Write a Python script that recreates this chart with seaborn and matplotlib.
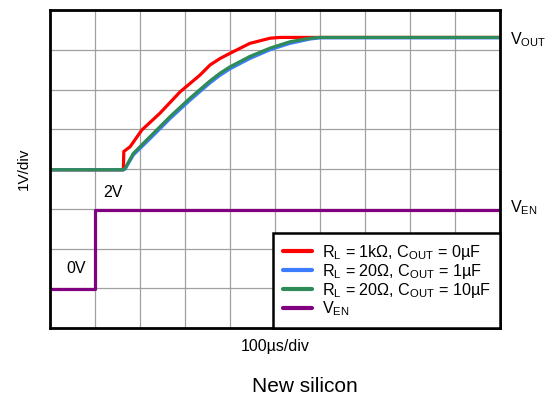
import numpy as np
import pandas as pd
import matplotlib
matplotlib.use("Agg")
import matplotlib.pyplot as plt
import seaborn as sns
from matplotlib.lines import Line2D

# ---- data (time in divisions of 100 µs, voltage in divisions of 1 V) ----
red_t = [0.0, 1.63, 1.64, 1.78, 2.04, 2.44, 2.89, 3.33, 3.56, 3.78, 4.0, 4.44, 4.89, 5.11, 10.0]
red_v = [3.98, 3.98, 4.44, 4.56, 4.98, 5.40, 5.94, 6.36, 6.62, 6.78, 6.91, 7.16, 7.29, 7.31, 7.31]

blue_t = [0.0, 1.63, 1.67, 1.85, 2.22, 2.67, 3.11, 3.56, 3.78, 4.0, 4.44, 4.89, 5.33, 5.78, 6.0, 10.0]
blue_v = [3.98, 3.98, 4.00, 4.35, 4.76, 5.27, 5.73, 6.17, 6.36, 6.52, 6.78, 7.00, 7.16, 7.27, 7.30, 7.30]

green_t = [0.0, 1.63, 1.67, 1.85, 2.22, 2.67, 3.11, 3.56, 3.78, 4.0, 4.44, 4.89, 5.33, 5.78, 6.0, 10.0]
green_v = [3.98, 3.98, 4.02, 4.39, 4.81, 5.32, 5.78, 6.22, 6.41, 6.57, 6.83, 7.04, 7.20, 7.29, 7.31, 7.31]

ven_t = [0.0, 1.0, 1.0, 10.0]
ven_v = [0.98, 0.98, 2.98, 2.98]

series_labels = [
    r"$\mathregular{R_L}$ = 1kΩ, $\mathregular{C_{OUT}}$ = 0µF",
    r"$\mathregular{R_L}$ = 20Ω, $\mathregular{C_{OUT}}$ = 1µF",
    r"$\mathregular{R_L}$ = 20Ω, $\mathregular{C_{OUT}}$ = 10µF",
    r"$\mathregular{V_{EN}}$",
]
colors = ["#FF0000", "#3C7DFF", "#2E8B57", "#800080"]

frames = []
for lab, t, v in zip(series_labels, [red_t, blue_t, green_t, ven_t], [red_v, blue_v, green_v, ven_v]):
    frames.append(pd.DataFrame({"t": t, "v": v, "series": lab}))
df = pd.concat(frames, ignore_index=True)

sns.set_style("white")
plt.rcParams["font.family"] = ["Liberation Sans", "DejaVu Sans"]
plt.rcParams["mathtext.fontset"] = "custom"
plt.rcParams["mathtext.rm"] = "Liberation Sans"
plt.rcParams["mathtext.it"] = "Liberation Sans"
plt.rcParams["text.color"] = "black"

fig = plt.figure(figsize=(5.49, 4.01), dpi=100)
ax = fig.add_axes([50 / 549, 1 - 328 / 401, 450 / 549, 318 / 401])

sns.lineplot(data=df, x="t", y="v", hue="series", hue_order=series_labels,
             palette=colors, sort=False, estimator=None, units="series",
             linewidth=2.3, ax=ax, legend=False)

ax.set_xlim(0, 10)
ax.set_ylim(0, 8)
ax.set_xticks(np.arange(0, 11, 1))
ax.set_yticks(np.arange(0, 9, 1))
ax.tick_params(length=0, labelbottom=False, labelleft=False)
ax.grid(True, color="#a0a0a0", linewidth=0.9)
ax.set_axisbelow(True)
ax.set_xlabel("")
ax.set_ylabel("")
for s in ax.spines.values():
    s.set_color("black")
    s.set_linewidth(2)

handles = [Line2D([0], [0], color=c, lw=3) for c in colors]
leg = ax.legend(handles, series_labels, loc="lower right", bbox_to_anchor=(1.0, 0.0),
                borderaxespad=0, fontsize=11.6, frameon=True, fancybox=False,
                handlelength=1.8, handletextpad=0.6, labelspacing=0.0,
                borderpad=0.6)
leg.get_frame().set_edgecolor("black")
leg.get_frame().set_linewidth(1.8)
leg.get_frame().set_alpha(1)
for t in leg.get_texts():
    t.set_color("black")

fig.text(510 / 549, 1 - 40 / 401, r"$\mathregular{V_{OUT}}$", fontsize=11.5, va="center", ha="left")
fig.text(510 / 549, 1 - 208 / 401, r"$\mathregular{V_{EN}}$", fontsize=11.5, va="center", ha="left")
fig.text(24 / 549, 1 - 169 / 401, "1V/div", fontsize=11, rotation=90, va="center", ha="center")
fig.text(275 / 549, 1 - 347 / 401, "100µs/div", fontsize=11.5, va="center", ha="center")
fig.text(305 / 549, 1 - 386 / 401, "New silicon", fontsize=15, va="center", ha="center")
ax.text(1.4, 3.4, "2V", fontsize=11.5, va="center", ha="center")
ax.text(0.58, 1.5, "0V", fontsize=11.5, va="center", ha="center")

fig.savefig("out.png", dpi=100)
